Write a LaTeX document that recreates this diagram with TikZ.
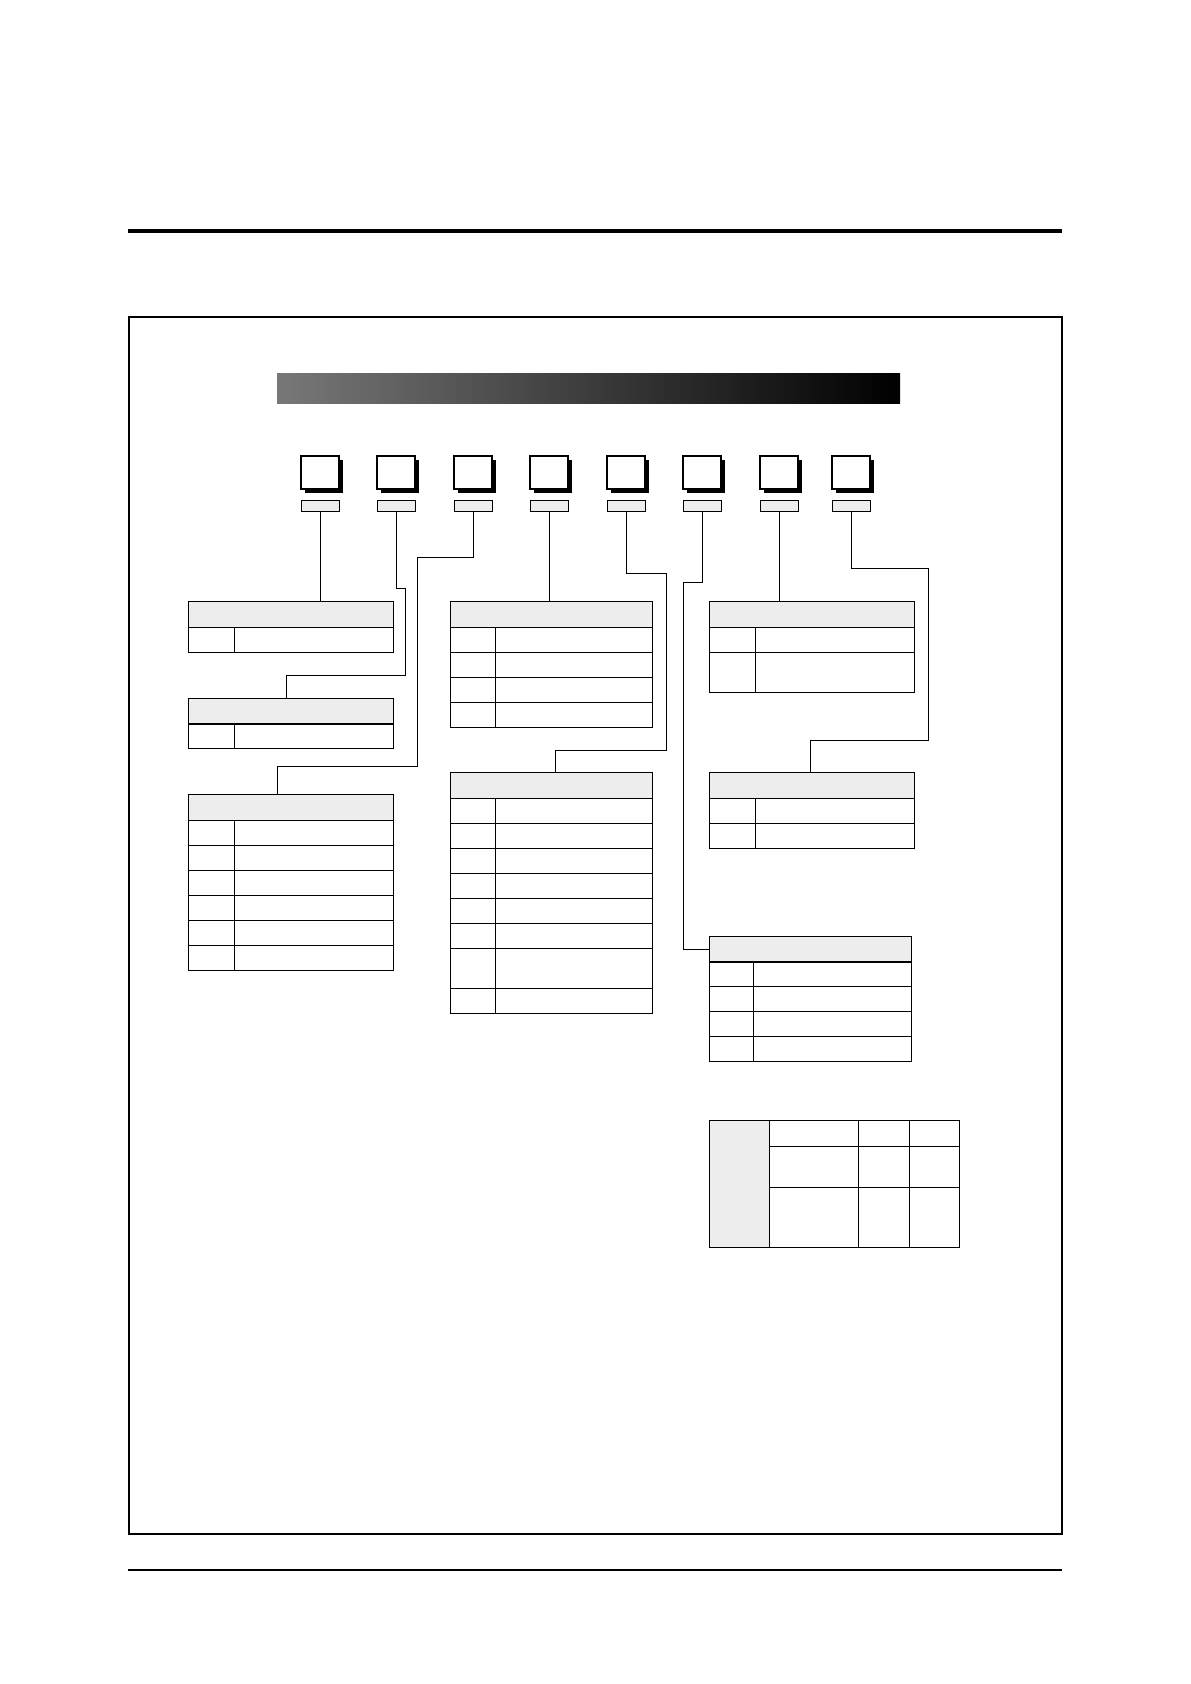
\documentclass[tikz,border=0pt]{standalone}
\usepackage{tikz}
\usetikzlibrary{calc,shadows}

\tikzset{
  sq/.style={draw, line width=1.2pt, fill=white, anchor=north west, inner sep=0pt, outer sep=0pt,
    minimum width=38pt, minimum height=33pt,
    drop shadow={shadow xshift=4pt, shadow yshift=-3.5pt, fill=black, opacity=1}},
  tab/.style={draw, line width=0.9pt, fill=black!7, anchor=north west, inner sep=0pt, outer sep=0pt,
    minimum width=38pt, minimum height=11pt},
  hdr/.style={draw, line width=1pt, fill=black!7, anchor=north west, inner sep=0pt, outer sep=0pt,
    minimum height=26pt},
  cell/.style={draw, line width=1pt, anchor=north west, inner sep=0pt, outer sep=0pt,
    minimum height=25pt},
  wire/.style={line width=1pt}
}

\begin{document}
\begin{tikzpicture}[x=1pt, y=-1pt]
  \useasboundingbox (0,0) rectangle (1191,1684);

  % page rules and frame
  \draw[line width=4pt] (128,231) -- (1062,231);
  \draw[line width=1.5pt] (129,317) rectangle (1062,1534);
  \draw[line width=1.5pt] (128,1570) -- (1062,1570);

  \node (bar) [anchor=north west, inner sep=0pt, minimum width=623pt, minimum height=30pt,
    left color=black!53, middle color=black!71, right color=black] at (277,373) {};

  % code boxes
  \foreach \x [count=\i] in {301,377,454,530,607,683,760,832} {
    \node[sq] (s\i) at (\x,456) {};
    \node[tab] (t\i) at (\x,500) {};
  }

  % left column
  \node[hdr, minimum width=205pt] (h1) at (188,601) {};
  \node[cell, minimum width=46pt] (k1) at (188,627) {};
  \node[cell, minimum width=159pt] (v1) at (234,627) {};

  \node[hdr, minimum width=205pt] (h2) at (188,698) {};
  \node[cell, minimum width=46pt] (k2) at (188,723) {};
  \node[cell, minimum width=159pt] (v2) at (234,723) {};

  \node[hdr, minimum width=205pt] (h3) at (188,794) {};
  \foreach \y [count=\r] in {820,845,870,895,920,945} {
    \node[cell, minimum width=46pt] (k3-\r) at (188,\y) {};
    \node[cell, minimum width=159pt] (v3-\r) at (234,\y) {};
  }

  % middle column
  \node[hdr, minimum width=202pt] (h4) at (450,601) {};
  \foreach \y [count=\r] in {627,652,677,702} {
    \node[cell, minimum width=45pt] (k4-\r) at (450,\y) {};
    \node[cell, minimum width=157pt] (v4-\r) at (495,\y) {};
  }

  \node[hdr, minimum width=202pt] (h5) at (450,772) {};
  \foreach \y [count=\r] in {798,823,848,873,898,923} {
    \node[cell, minimum width=45pt] (k5-\r) at (450,\y) {};
    \node[cell, minimum width=157pt] (v5-\r) at (495,\y) {};
  }
  \node[cell, minimum width=45pt, minimum height=40pt] (k5-7) at (450,948) {};
  \node[cell, minimum width=157pt, minimum height=40pt] (v5-7) at (495,948) {};
  \node[cell, minimum width=45pt] (k5-8) at (450,988) {};
  \node[cell, minimum width=157pt] (v5-8) at (495,988) {};

  % right column
  \node[hdr, minimum width=205pt] (h6) at (709,601) {};
  \node[cell, minimum width=46pt] (k6-1) at (709,627) {};
  \node[cell, minimum width=159pt] (v6-1) at (755,627) {};
  \node[cell, minimum width=46pt, minimum height=40pt] (k6-2) at (709,652) {};
  \node[cell, minimum width=159pt, minimum height=40pt] (v6-2) at (755,652) {};

  \node[hdr, minimum width=205pt] (h8) at (709,772) {};
  \foreach \y [count=\r] in {798,823} {
    \node[cell, minimum width=46pt] (k8-\r) at (709,\y) {};
    \node[cell, minimum width=159pt] (v8-\r) at (755,\y) {};
  }

  \node[hdr, minimum width=202pt] (h7) at (709,936) {};
  \foreach \y [count=\r] in {961,986,1011,1036} {
    \node[cell, minimum width=44pt] (k7-\r) at (709,\y) {};
    \node[cell, minimum width=158pt] (v7-\r) at (753,\y) {};
  }

  % bottom table
  \node[hdr, minimum width=60pt, minimum height=127pt] (g) at (709,1120) {};
  \node[cell, minimum width=89pt, minimum height=26pt] (b11) at (769,1120) {};
  \node[cell, minimum width=51pt, minimum height=26pt] (b12) at (858,1120) {};
  \node[cell, minimum width=50pt, minimum height=26pt] (b13) at (909,1120) {};
  \node[cell, minimum width=89pt, minimum height=41pt] (b21) at (769,1146) {};
  \node[cell, minimum width=51pt, minimum height=41pt] (b22) at (858,1146) {};
  \node[cell, minimum width=50pt, minimum height=41pt] (b23) at (909,1146) {};
  \node[cell, minimum width=89pt, minimum height=60pt] (b31) at (769,1187) {};
  \node[cell, minimum width=51pt, minimum height=60pt] (b32) at (858,1187) {};
  \node[cell, minimum width=50pt, minimum height=60pt] (b33) at (909,1187) {};

  % connectors
  \draw[wire] (t1.south) -- (t1.south |- h1.north);
  \draw[wire] (t2.south) |- (405,588) -- (405,675) -| ([xshift=-4.5pt]h2.north);
  \draw[wire] (t3.south) |- (417,557) -- (417,766) -| ([xshift=-13.5pt]h3.north);
  \draw[wire] (t4.south) -- (t4.south |- h4.north);
  \draw[wire] (t5.south) |- (666,573) -- (666,750) -| ([xshift=4pt]h5.north);
  \draw[wire] (t6.south) |- (683,582) |- (h7.west);
  \draw[wire] (t7.south) -- (t7.south |- h6.north);
  \draw[wire] (t8.south) |- (928,568) -- (928,740) -| ([xshift=-1pt]h8.north);
\end{tikzpicture}
\end{document}
